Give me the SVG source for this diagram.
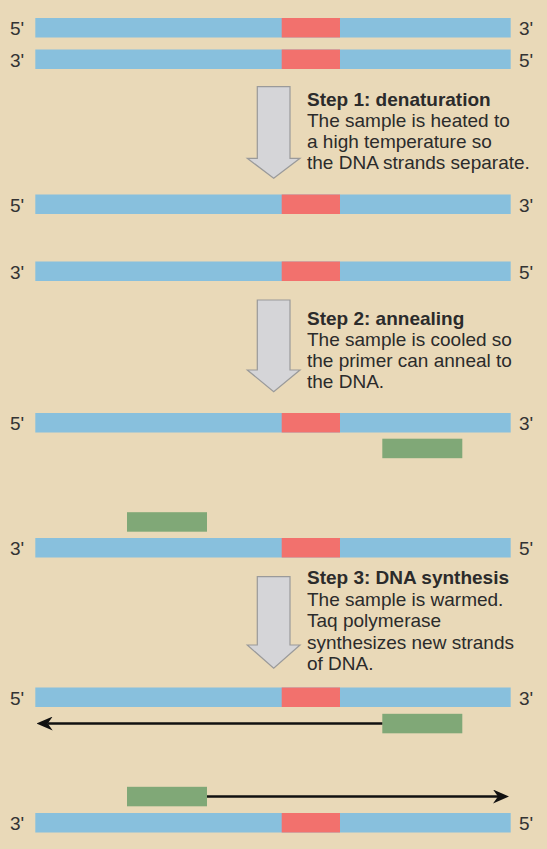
<svg xmlns="http://www.w3.org/2000/svg" width="547" height="849" viewBox="0 0 547 849">
<style>
.bg{fill:#e9d9b8}
.dna{fill:#88c0dd}
.tgt{fill:#f2716d}
.pr{fill:#80a877}
.lbl{font-family:"Liberation Sans",Arial,sans-serif;font-size:19px;fill:#333}
.txt{font-family:"Liberation Sans",Arial,sans-serif;font-size:19px;fill:#2b2b2b}
.hd{font-weight:bold}
.step{fill:#d5d5d8;stroke:#9a9a9a;stroke-width:1.2}
.syn{stroke:#111;stroke-width:2.6;fill:none}
</style>
<defs>
<marker id="ah" viewBox="0 0 16 14" markerUnits="userSpaceOnUse" markerWidth="16" markerHeight="14" refX="5" refY="7" orient="auto">
<path d="M0,0 L16,7 L0,14 L5,7 Z" fill="#111"/>
</marker>
</defs>
<rect class="bg" x="0" y="0" width="547" height="849"/>

<g id="row1">
<rect class="dna" x="35.3" y="18" width="475.4" height="19.5"/>
<rect class="tgt" x="281.7" y="18" width="58.3" height="19.5"/>
<text class="lbl" x="10" y="35">5'</text><text class="lbl" x="519" y="35">3'</text>
</g>
<g id="row2">
<rect class="dna" x="35.3" y="49.5" width="475.4" height="19.5"/>
<rect class="tgt" x="281.7" y="49.5" width="58.3" height="19.5"/>
<text class="lbl" x="10" y="66.5">3'</text><text class="lbl" x="519" y="66.5">5'</text>
</g>

<g id="step1">
<polygon class="step" points="257.3,86.7 290,86.7 290,158.3 300,158.3 273.7,178.3 247.3,158.3 257.3,158.3"/>
<text class="txt" x="307" y="105.5"><tspan class="hd">Step 1: denaturation</tspan><tspan x="307" dy="21">The sample is heated to</tspan><tspan x="307" dy="21">a high temperature so</tspan><tspan x="307" dy="21">the DNA strands separate.</tspan></text>
</g>

<g id="row3">
<rect class="dna" x="35.3" y="194.5" width="475.4" height="19.5"/>
<rect class="tgt" x="281.7" y="194.5" width="58.3" height="19.5"/>
<text class="lbl" x="10" y="211.5">5'</text><text class="lbl" x="519" y="211.5">3'</text>
</g>
<g id="row4">
<rect class="dna" x="35.3" y="261.5" width="475.4" height="19.5"/>
<rect class="tgt" x="281.7" y="261.5" width="58.3" height="19.5"/>
<text class="lbl" x="10" y="278.5">3'</text><text class="lbl" x="519" y="278.5">5'</text>
</g>

<g id="step2">
<polygon class="step" points="257.3,300 290,300 290,370 300,370 273.7,391.7 247.3,370 257.3,370"/>
<text class="txt" x="307" y="325"><tspan class="hd">Step 2: annealing</tspan><tspan x="307" dy="21">The sample is cooled so</tspan><tspan x="307" dy="21">the primer can anneal to</tspan><tspan x="307" dy="21">the DNA.</tspan></text>
</g>

<g id="row5">
<rect class="dna" x="35.3" y="413" width="475.4" height="19.5"/>
<rect class="tgt" x="281.7" y="413" width="58.3" height="19.5"/>
<text class="lbl" x="10" y="430">5'</text><text class="lbl" x="519" y="430">3'</text>
</g>
<g id="primer1"><rect class="pr" x="382.3" y="438.7" width="80" height="19.5"/></g>
<g id="primer2"><rect class="pr" x="127" y="512.2" width="80" height="19.5"/></g>
<g id="row6">
<rect class="dna" x="35.3" y="538" width="475.4" height="19.5"/>
<rect class="tgt" x="281.7" y="538" width="58.3" height="19.5"/>
<text class="lbl" x="10" y="555">3'</text><text class="lbl" x="519" y="555">5'</text>
</g>

<g id="step3">
<polygon class="step" points="257.3,576.7 290,576.7 290,645 300,645 273.7,668.3 247.3,645 257.3,645"/>
<text class="txt" x="307" y="584"><tspan class="hd">Step 3: DNA synthesis</tspan><tspan x="307" dy="21.5">The sample is warmed.</tspan><tspan x="307" dy="21.5">Taq polymerase</tspan><tspan x="307" dy="21.5">synthesizes new strands</tspan><tspan x="307" dy="21.5">of DNA.</tspan></text>
</g>

<g id="row7">
<rect class="dna" x="35.3" y="687.5" width="475.4" height="19.5"/>
<rect class="tgt" x="281.7" y="687.5" width="58.3" height="19.5"/>
<text class="lbl" x="10" y="704.5">5'</text><text class="lbl" x="519" y="704.5">3'</text>
</g>
<g id="primer3"><rect class="pr" x="382.3" y="713.8" width="80" height="19.5"/></g>
<g id="primer4"><rect class="pr" x="127" y="786.8" width="80" height="19.5"/></g>
<g id="row8">
<rect class="dna" x="35.3" y="813" width="475.4" height="19.5"/>
<rect class="tgt" x="281.7" y="813" width="58.3" height="19.5"/>
<text class="lbl" x="10" y="830">3'</text><text class="lbl" x="519" y="830">5'</text>
</g>

<g id="connectors">
<line class="syn" x1="382.3" y1="723.5" x2="47.7" y2="723.5" marker-end="url(#ah)"/>
<line class="syn" x1="207" y1="796.5" x2="498" y2="796.5" marker-end="url(#ah)"/>
</g>
</svg>
